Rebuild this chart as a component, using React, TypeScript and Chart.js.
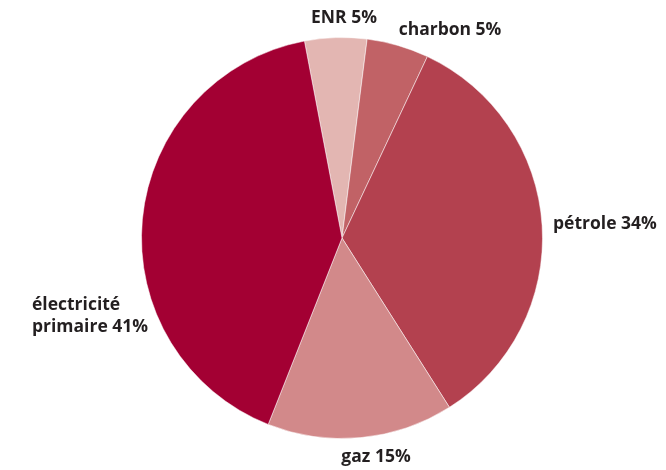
import React, { useEffect, useRef } from "react";
import { Chart, registerables } from "chart.js";

Chart.register(...registerables);

const categories = ["ENR", "charbon", "pétrole", "gaz", "électricité primaire"];
const values = [5, 5, 34, 15, 41];
const colors = ["#e3b6b2", "#c16266", "#b3414f", "#d2898a", "#a30033"];

// label placement relative to pie centre (layout only)
const labelLayout = [
  { dx: 2, dy: -220, align: "center" },
  { dx: 108, dy: -208, align: "center" },
  { dx: 211, dy: -14, align: "left" },
  { dx: 34, dy: 219, align: "center" },
  { dx: -310, dy: 67, align: "left" },
];

const labelPlugin = {
  id: "sliceLabels",
  afterDraw(chart: any) {
    const meta = chart.getDatasetMeta(0);
    const arc = meta.data[0];
    if (!arc) return;
    const cx = arc.x;
    const cy = arc.y;
    const ctx = chart.ctx;
    ctx.save();
    ctx.fillStyle = "#231f20";
    ctx.font = "bold 17.5px 'Open Sans'";
    ctx.textBaseline = "middle";
    categories.forEach((c, i) => {
      const L = labelLayout[i];
      ctx.textAlign = L.align;
      const text = `${c} ${values[i]}%`;
      if (c === "électricité primaire") {
        ctx.fillText("électricité", cx + L.dx, cy + L.dy);
        ctx.fillText(`primaire ${values[i]}%`, cx + L.dx, cy + L.dy + 22);
      } else {
        ctx.fillText(text, cx + L.dx, cy + L.dy);
      }
    });
    ctx.restore();
  },
};

export default function App() {
  const ref = useRef<HTMLCanvasElement>(null);
  useEffect(() => {
    if (!ref.current) return;
    const chart = new Chart(ref.current, {
      type: "pie",
      data: {
        labels: categories,
        datasets: [
          {
            data: values,
            backgroundColor: colors,
            borderColor: "rgba(255,255,255,0.5)",
            borderWidth: 1,
          },
        ],
      },
      options: {
        animation: false,
        responsive: true,
        maintainAspectRatio: false,
        rotation: -10.8,
        layout: { padding: { top: 37, bottom: 31, left: 141, right: 123 } },
        plugins: { legend: { display: false }, tooltip: { enabled: false } },
      },
      plugins: [labelPlugin],
    });
    return () => chart.destroy();
  }, []);
  return (
    <div style={{ position: "absolute", left: 0, top: 0, width: 666, height: 470, background: "#fff" }}>
      <canvas ref={ref} />
    </div>
  );
}
